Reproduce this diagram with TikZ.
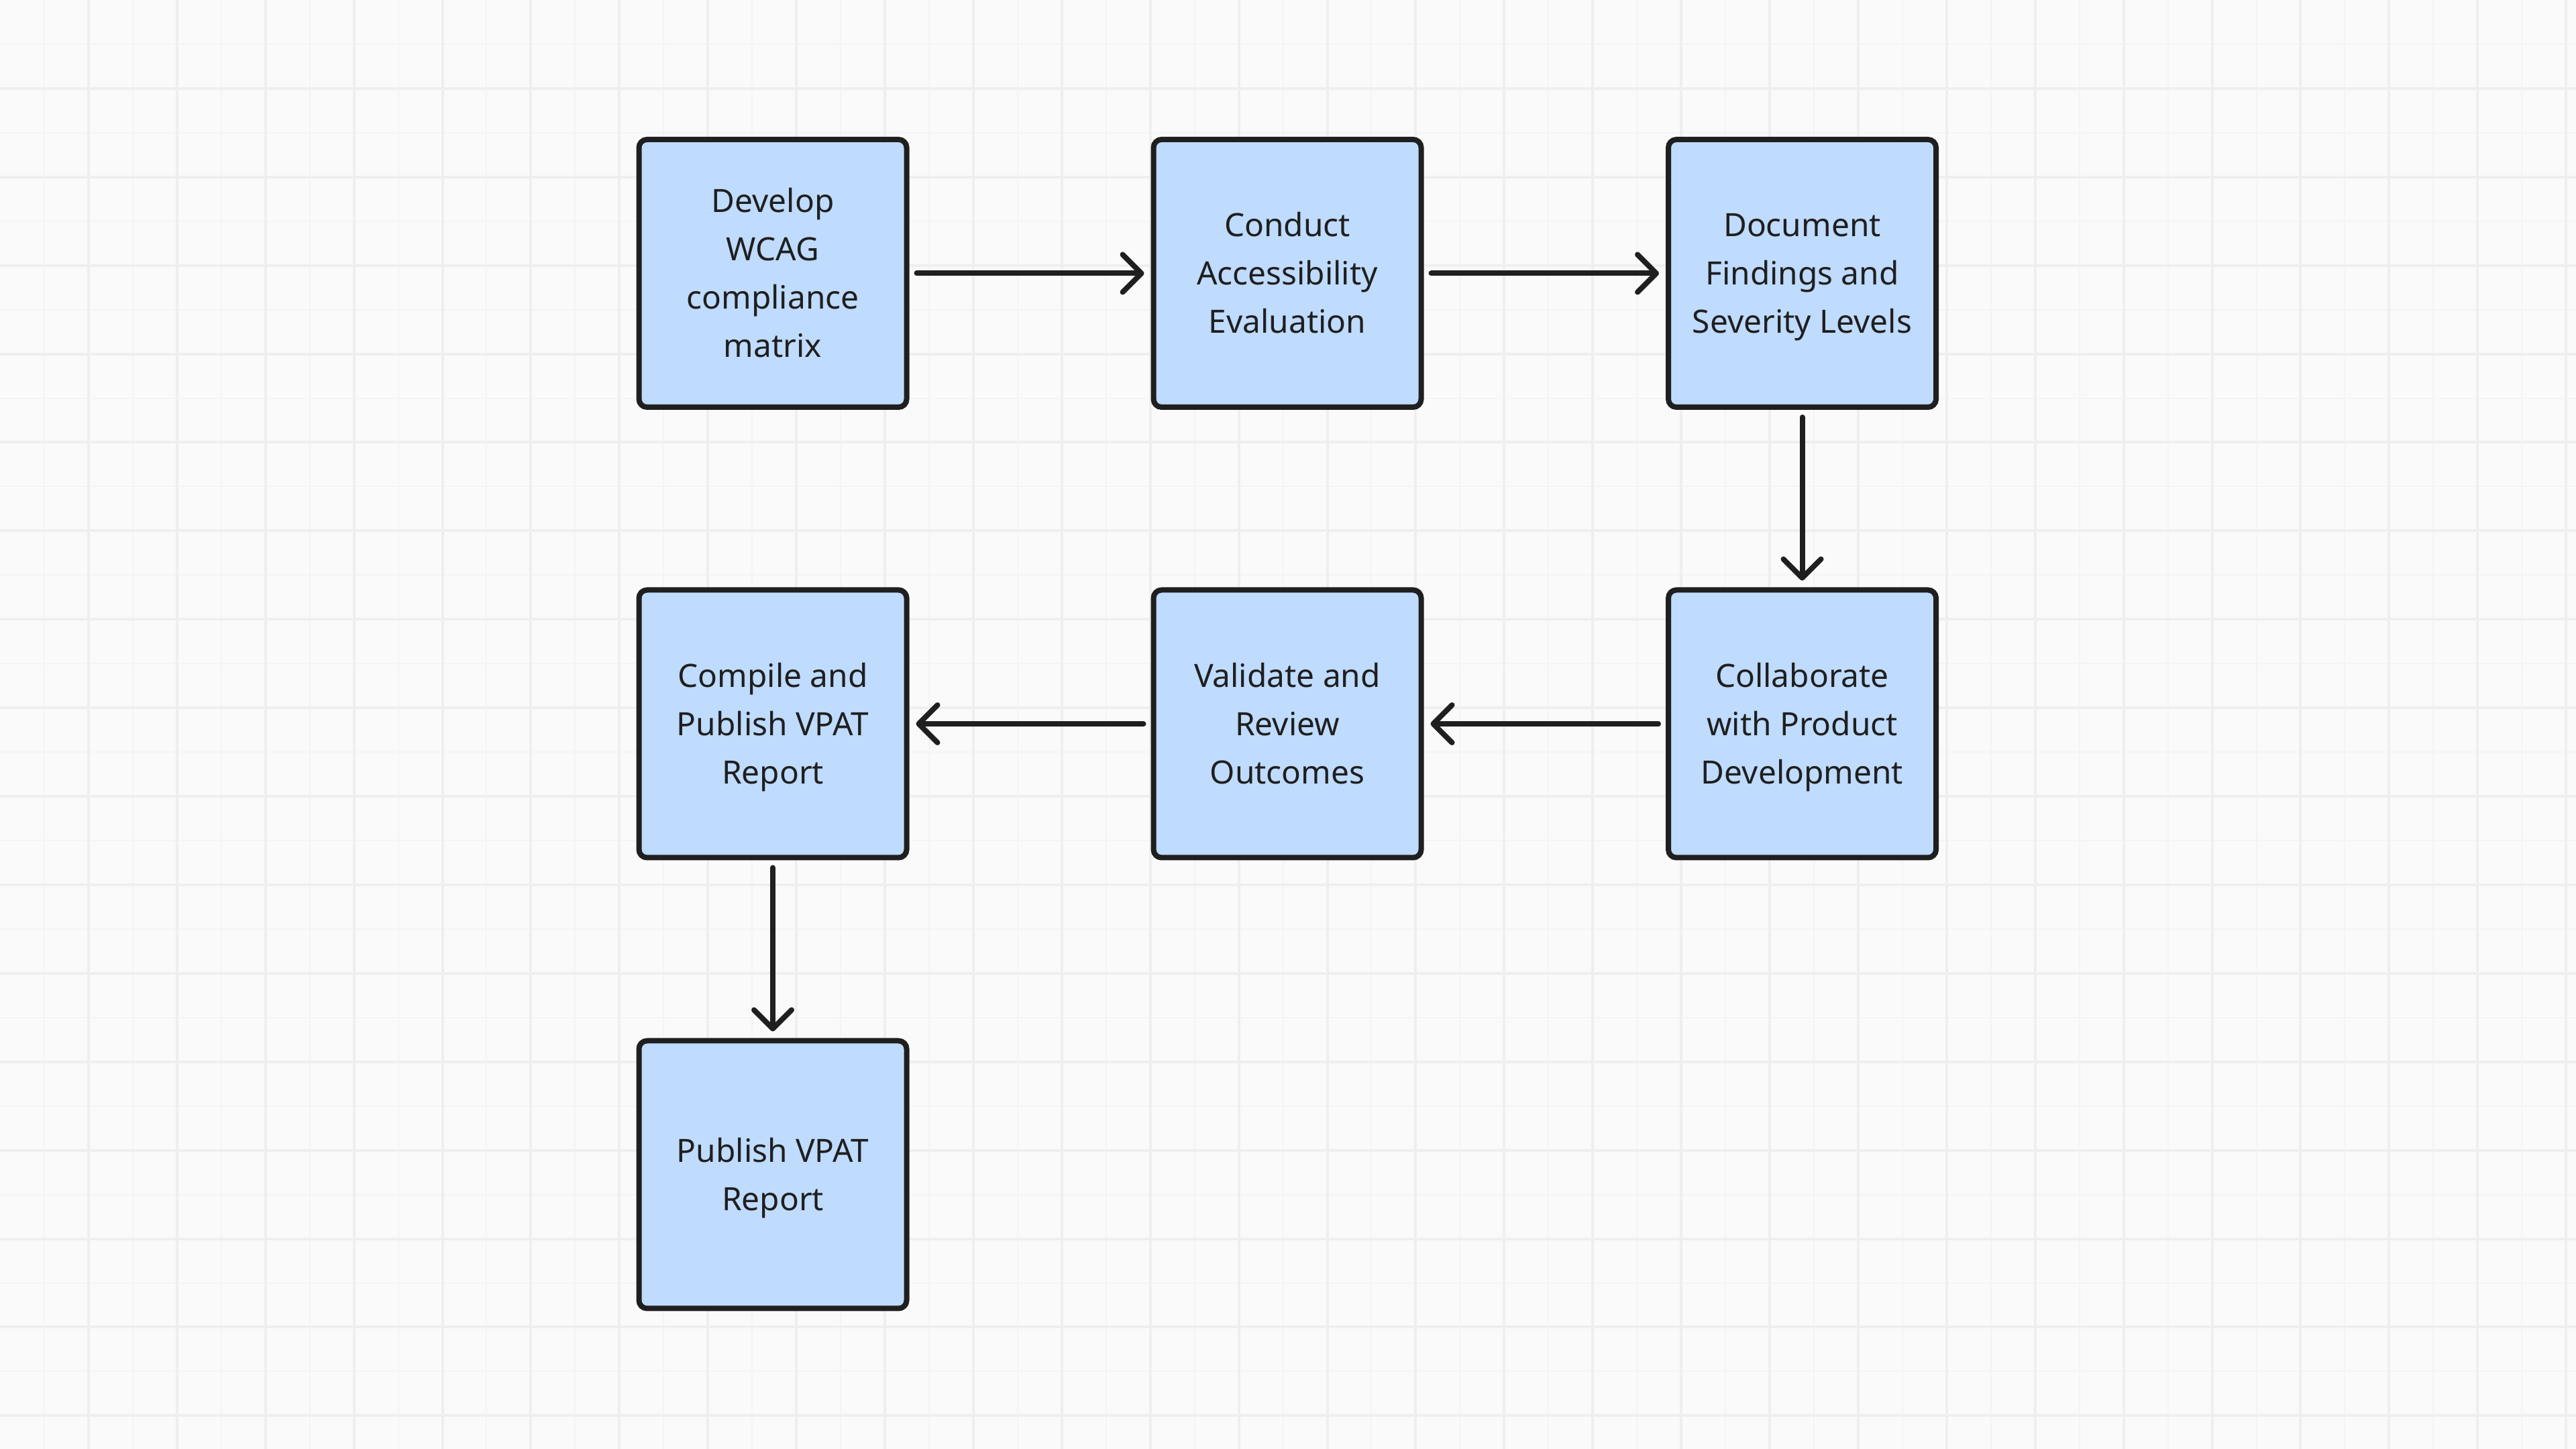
\documentclass[tikz,border=0pt]{standalone}
\usepackage{fontspec}
\setmainfont{Noto Sans}
\usetikzlibrary{arrows.meta}
\definecolor{bg}{HTML}{FAFAFA}
\definecolor{gridmin}{HTML}{F4F4F4}
\definecolor{gridmaj}{HTML}{EFEFEF}
\definecolor{boxfill}{HTML}{BFDBFE}
\definecolor{ink}{HTML}{1F1F1F}
\newcommand\lnstrut{\rule[-5.35pt]{0pt}{20.5pt}}
\tikzset{
  stepbox/.style={draw=ink, fill=boxfill, line width=0.08cm, rounded corners=0.12cm,
    minimum width=3.99cm, minimum height=3.99cm, inner sep=0pt, outer sep=0.04cm,
    align=center, text=ink, font=\fontsize{13.6}{20.5}\selectfont},
  flow/.style={draw=ink, line width=0.08cm, line cap=round,
    -{Straight Barb[length=0.28cm,width=0.56cm,round]},
    shorten <=0.11cm, shorten >=0.1cm},
  gminor/.style={draw=gridmin, line width=0.02cm},
  gmajor/.style={draw=gridmaj, line width=0.04cm}
}
\begin{document}
\begin{tikzpicture}
\fill[bg] (0,0) rectangle (38.4,21.6);
\useasboundingbox (0,0) rectangle (38.4,21.6);
\foreach \i in {1,3,...,57} \draw[gminor] (\i*0.6595,0) -- (\i*0.6595,21.6);
\foreach \i in {1,3,...,33} \draw[gminor] (0,21.6-\i*0.6595) -- (38.4,21.6-\i*0.6595);
\foreach \i in {2,4,...,58} \draw[gmajor] (\i*0.6595,0) -- (\i*0.6595,21.6);
\foreach \i in {2,4,...,32} \draw[gmajor] (0,21.6-\i*0.6595) -- (38.4,21.6-\i*0.6595);

\node[stepbox] (n1) at (11.52,17.525) {\lnstrut Develop\\WCAG\\compliance\\matrix\lnstrut};
\node[stepbox] (n2) at (19.19,17.525) {\lnstrut Conduct\\Accessibility\\Evaluation\lnstrut};
\node[stepbox] (n3) at (26.865,17.525) {\lnstrut Document\\Findings and\\Severity Levels\lnstrut};
\node[stepbox] (n4) at (26.865,10.81) {\lnstrut Collaborate\\with Product\\Development\lnstrut};
\node[stepbox] (n5) at (19.19,10.81) {\lnstrut Validate and\\Review\\Outcomes\lnstrut};
\node[stepbox] (n6) at (11.52,10.81) {\lnstrut Compile and\\Publish VPAT\\Report\lnstrut};
\node[stepbox] (n7) at (11.52,4.09) {\lnstrut Publish VPAT\\Report\lnstrut};

\draw[flow] (n1) -- (n2);
\draw[flow] (n2) -- (n3);
\draw[flow] (n3) -- (n4);
\draw[flow] (n4) -- (n5);
\draw[flow] (n5) -- (n6);
\draw[flow] (n6) -- (n7);
\end{tikzpicture}
\end{document}
